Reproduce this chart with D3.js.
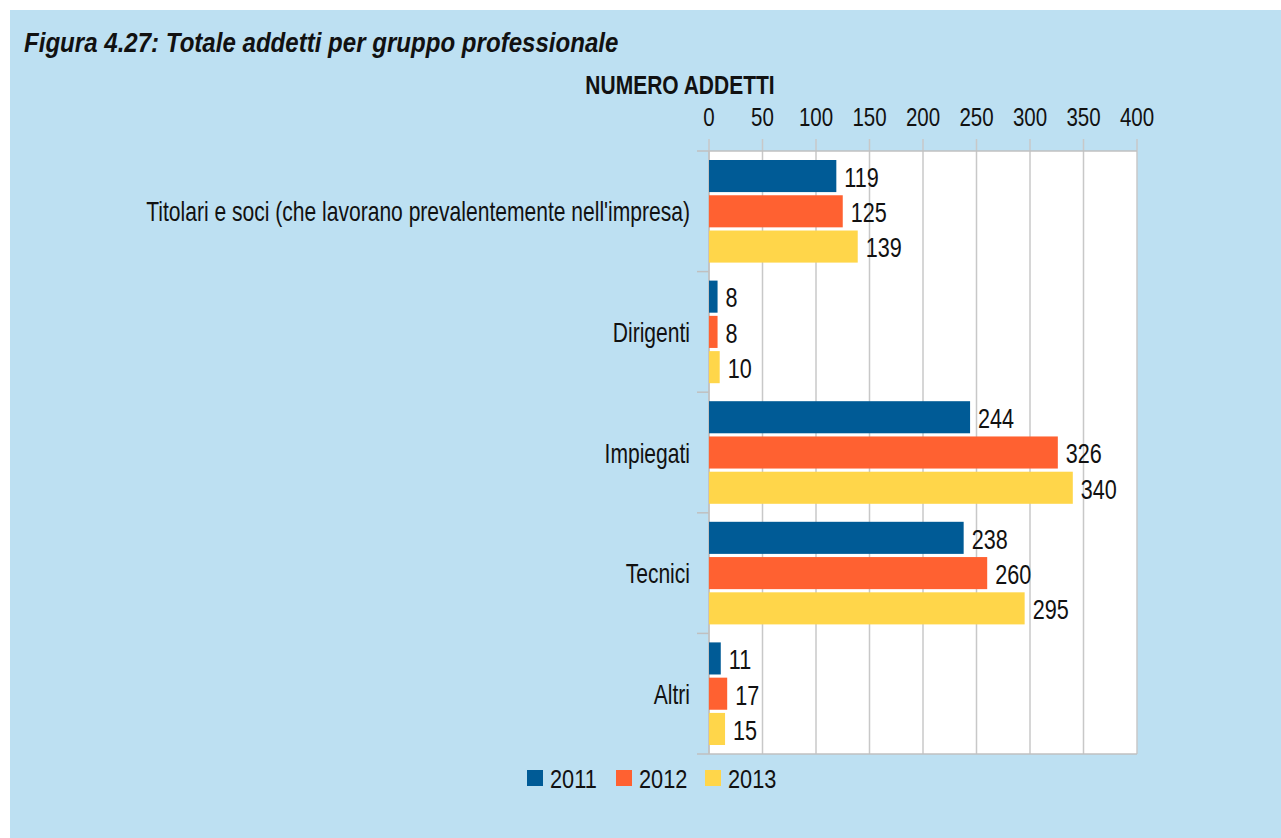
<!DOCTYPE html>
<html>
<head>
<meta charset="utf-8">
<script src="https://cdn.jsdelivr.net/npm/d3@7"></script>
<style>
  body { margin: 0; background: #fff; }
  svg text { font-family: "Liberation Sans Narrow", "Arial Narrow", "Liberation Sans", Arial, sans-serif; fill: #111; }
</style>
</head>
<body>
<div id="chart"></div>
<script>
// categories and series
var categories = ["Titolari e soci (che lavorano prevalentemente nell'impresa)", "Dirigenti", "Impiegati", "Tecnici", "Altri"];
var years = ["2011", "2012", "2013"];
var values2011 = [119, 8, 244, 238, 11];
var values2012 = [125, 8, 326, 260, 17];
var values2013 = [139, 10, 340, 295, 15];
var xTicks = [0, 50, 100, 150, 200, 250, 300, 350, 400];
var colors = ["#005b96", "#ff6131", "#ffd64a"];

var W = 1281, H = 838;
var plot = {left: 709, top: 151, right: 1137, bottom: 754};

// the original font is a narrow face, so squeeze text horizontally
function at(x, y, s) {
  return "translate(" + x + "," + y + ") scale(" + s + ",1)";
}

var series = [values2011, values2012, values2013];
var rows = categories.map(function(c, i) {
  return {name: c, vals: years.map(function(y, j) { return {year: y, idx: j, value: series[j][i]}; })};
});

var svg = d3.select("#chart").append("svg")
    .attr("width", W)
    .attr("height", H);

// light blue panel
svg.append("rect")
    .attr("x", 10).attr("y", 10)
    .attr("width", W - 10).attr("height", H - 10)
    .attr("fill", "#bde0f2");

svg.append("text")
    .attr("transform", at(24, 52, 0.86))
    .style("font-size", "28px")
    .style("font-weight", "bold")
    .style("font-style", "italic")
    .text("Figura 4.27: Totale addetti per gruppo professionale");

svg.append("text")
    .attr("transform", at(680, 94, 0.84))
    .attr("text-anchor", "middle")
    .style("font-size", "25px")
    .style("font-weight", "bold")
    .text("NUMERO ADDETTI");

// scales
var x = d3.scaleLinear().domain([0, 400]).range([plot.left, plot.right]);
var y = d3.scaleBand().domain(categories).range([plot.top, plot.bottom]);
var bandH = y.bandwidth();
var ySub = d3.scaleBand().domain(years).range([9, bandH - 9]).paddingInner(0.09);

// plot background
svg.append("rect")
    .attr("x", plot.left).attr("y", plot.top)
    .attr("width", plot.right - plot.left).attr("height", plot.bottom - plot.top)
    .attr("fill", "#fff");

// grid lines + top ticks
svg.append("g")
  .selectAll("line")
  .data(xTicks)
  .enter().append("line")
    .attr("x1", function(d) { return x(d); })
    .attr("x2", function(d) { return x(d); })
    .attr("y1", plot.top - 12)
    .attr("y2", plot.bottom)
    .attr("stroke", "#c8c8c8")
    .attr("stroke-width", 1.5);

// top axis labels
svg.append("g")
  .selectAll("text")
  .data(xTicks)
  .enter().append("text")
    .attr("transform", function(d) { return at(x(d), 126, 0.82); })
    .attr("text-anchor", "middle")
    .style("font-size", "25px")
    .text(function(d) { return d; });

// frame lines
svg.append("line")
    .attr("x1", plot.left - 12).attr("x2", plot.right)
    .attr("y1", plot.top).attr("y2", plot.top)
    .attr("stroke", "#c0c0c0").attr("stroke-width", 1.5);
svg.append("line")
    .attr("x1", plot.left - 12).attr("x2", plot.right)
    .attr("y1", plot.bottom).attr("y2", plot.bottom)
    .attr("stroke", "#c0c0c0").attr("stroke-width", 1.5);
svg.append("line")
    .attr("x1", plot.left).attr("x2", plot.left)
    .attr("y1", plot.top).attr("y2", plot.bottom)
    .attr("stroke", "#c0c0c0").attr("stroke-width", 1.5);

// category separator ticks
svg.append("g")
  .selectAll("line")
  .data(categories.slice(1))
  .enter().append("line")
    .attr("x1", plot.left - 12).attr("x2", plot.left)
    .attr("y1", function(d) { return y(d); })
    .attr("y2", function(d) { return y(d); })
    .attr("stroke", "#c0c0c0").attr("stroke-width", 1.5);

// category labels
svg.append("g")
  .selectAll("text")
  .data(categories)
  .enter().append("text")
    .attr("transform", function(d) { return at(690, y(d) + bandH / 2, 0.78); })
    .attr("dy", "0.37em")
    .attr("text-anchor", "end")
    .style("font-size", "27px")
    .text(function(d) { return d; });

// bars
var groups = svg.append("g")
  .selectAll("g")
  .data(rows)
  .enter().append("g")
    .attr("transform", function(d) { return "translate(0," + y(d.name) + ")"; });

groups.selectAll("rect")
  .data(function(d) { return d.vals; })
  .enter().append("rect")
    .attr("x", x(0))
    .attr("y", function(d) { return ySub(d.year); })
    .attr("width", function(d) { return x(d.value) - x(0); })
    .attr("height", ySub.bandwidth())
    .attr("fill", function(d) { return colors[d.idx]; });

groups.selectAll("text")
  .data(function(d) { return d.vals; })
  .enter().append("text")
    .attr("transform", function(d) { return at(x(d.value) + 8, ySub(d.year) + ySub.bandwidth() / 2, 0.8); })
    .attr("dy", "0.4em")
    .style("font-size", "27px")
    .text(function(d) { return d.value; });

// legend
var legendX = [527, 616, 705];
var legend = svg.append("g")
  .selectAll("g")
  .data(years)
  .enter().append("g")
    .attr("transform", function(d, i) { return "translate(" + legendX[i] + ",770)"; });

legend.append("rect")
    .attr("width", 16).attr("height", 16)
    .attr("fill", function(d, i) { return colors[i]; });

legend.append("text")
    .attr("transform", at(23, 17.5, 0.87))
    .style("font-size", "25px")
    .text(function(d) { return d; });
</script>
</body>
</html>
